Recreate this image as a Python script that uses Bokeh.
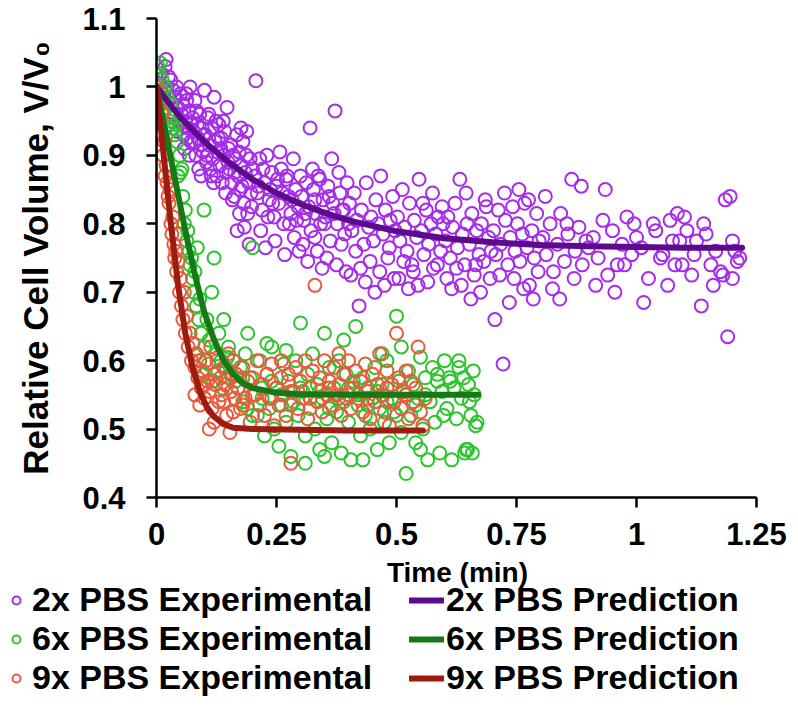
from bokeh.plotting import figure
from bokeh.models import FixedTicker, Legend, LegendItem, Label
from bokeh.embed import file_html
from bokeh.resources import INLINE

# ---------------- data ----------------
x_ticks = [0, 0.25, 0.5, 0.75, 1, 1.25]
x_tick_labels = ["0", "0.25", "0.5", "0.75", "1", "1.25"]
y_ticks = [0.4, 0.5, 0.6, 0.7, 0.8, 0.9, 1, 1.1]
y_tick_labels = ["0.4", "0.5", "0.6", "0.7", "0.8", "0.9", "1", "1.1"]

series_names = ["2x PBS Experimental", "6x PBS Experimental", "9x PBS Experimental",
                "2x PBS Prediction", "6x PBS Prediction", "9x PBS Prediction"]

pbs2_t = [
    0.005, 0.01, 0.012, 0.018, 0.02, 0.022, 0.025, 0.028, 0.03, 0.033,
    0.035, 0.037, 0.04, 0.042, 0.045, 0.047, 0.05, 0.015, 0.027, 0.043,
    0.052, 0.055, 0.057, 0.06, 0.062, 0.065, 0.067, 0.07, 0.072, 0.075,
    0.077, 0.08, 0.082, 0.085, 0.087, 0.09, 0.092, 0.095, 0.097, 0.1,
    0.058, 0.068, 0.078, 0.088, 0.098, 0.063, 0.073, 0.083, 0.093, 0.064,
    0.102, 0.105, 0.107, 0.11, 0.112, 0.115, 0.117, 0.12, 0.122, 0.125,
    0.127, 0.13, 0.132, 0.135, 0.137, 0.14, 0.142, 0.145, 0.147, 0.15,
    0.104, 0.114, 0.124, 0.134, 0.144, 0.109, 0.119, 0.129, 0.139, 0.149,
    0.152, 0.155, 0.157, 0.16, 0.162, 0.165, 0.167, 0.17, 0.172, 0.175,
    0.177, 0.18, 0.182, 0.185, 0.187, 0.19, 0.192, 0.195, 0.197, 0.2,
    0.158, 0.168, 0.178, 0.188, 0.198, 0.163, 0.173, 0.183, 0.193, 0.176,
    0.205, 0.21, 0.215, 0.22, 0.225, 0.23, 0.235, 0.24, 0.245, 0.25,
    0.255, 0.26, 0.265, 0.27, 0.275, 0.28, 0.285, 0.29, 0.295, 0.3,
    0.207, 0.217, 0.227, 0.237, 0.247, 0.257, 0.267, 0.277, 0.287, 0.297,
    0.212, 0.222, 0.232, 0.242, 0.252, 0.262, 0.272, 0.282, 0.292, 0.32,
    0.302, 0.307, 0.312, 0.317, 0.322, 0.327, 0.332, 0.337, 0.342, 0.347,
    0.352, 0.357, 0.362, 0.367, 0.372, 0.377, 0.382, 0.387, 0.392, 0.397,
    0.305, 0.315, 0.325, 0.335, 0.345, 0.355, 0.365, 0.375, 0.385, 0.395,
    0.31, 0.33, 0.35, 0.37, 0.39, 0.34, 0.36, 0.38, 0.4, 0.33,
    0.402, 0.407, 0.412, 0.417, 0.422, 0.427, 0.432, 0.437, 0.442, 0.447,
    0.452, 0.457, 0.462, 0.467, 0.472, 0.477, 0.482, 0.487, 0.492, 0.497,
    0.405, 0.415, 0.425, 0.435, 0.445, 0.455, 0.465, 0.475, 0.485, 0.495,
    0.502, 0.507, 0.512, 0.517, 0.522, 0.527, 0.532, 0.537, 0.542, 0.547,
    0.552, 0.557, 0.562, 0.567, 0.572, 0.577, 0.582, 0.587, 0.592, 0.597,
    0.505, 0.515, 0.525, 0.535, 0.545, 0.555, 0.565, 0.575, 0.585, 0.595,
    0.602, 0.607, 0.612, 0.617, 0.622, 0.627, 0.632, 0.637, 0.642, 0.647,
    0.652, 0.657, 0.662, 0.667, 0.672, 0.677, 0.682, 0.687, 0.692, 0.697,
    0.605, 0.615, 0.625, 0.635, 0.645, 0.655, 0.665, 0.675, 0.685, 0.695,
    0.702, 0.707, 0.712, 0.717, 0.722, 0.727, 0.732, 0.737, 0.742, 0.747,
    0.752, 0.757, 0.762, 0.767, 0.772, 0.777, 0.782, 0.787, 0.792, 0.797,
    0.705, 0.715, 0.725, 0.735, 0.745, 0.755, 0.765, 0.775, 0.785, 0.795,
    0.805, 0.812, 0.82, 0.827, 0.835, 0.842, 0.85, 0.857, 0.865, 0.872,
    0.88, 0.887, 0.895, 0.81, 0.825, 0.84, 0.855, 0.87, 0.885, 0.9,
    0.91, 0.92, 0.93, 0.94, 0.95, 0.96, 0.97, 0.98, 0.99, 1.0,
    0.915, 0.935, 0.955, 0.975, 0.995, 1.01, 1.025, 1.04, 1.055, 1.07,
    1.08, 1.09, 1.1, 1.015, 1.035, 1.05, 1.065, 1.075, 1.085, 1.095,
    1.105, 1.115, 1.125, 1.135, 1.145, 1.155, 1.165, 1.175, 1.185, 1.19,
    1.195, 1.2, 1.205, 1.21, 1.215, 1.12, 1.14, 1.16, 1.18, 1.2,
]
pbs2_v = [
    1.005, 1.02, 0.99, 1.03, 1.04, 1.0, 1.015, 0.985, 1.01, 0.975,
    0.995, 0.96, 0.985, 1.0, 0.97, 0.95, 0.99, 0.965, 0.945, 0.935,
    0.96, 0.975, 0.93, 0.95, 0.99, 0.94, 0.965, 1.0, 0.92, 0.955,
    0.935, 0.98, 0.9, 0.945, 0.925, 0.96, 0.915, 0.94, 0.905, 0.995,
    0.91, 0.9, 0.92, 0.88, 0.93, 0.98, 0.945, 0.965, 0.87, 0.925,
    0.93, 0.9, 0.955, 0.915, 0.88, 0.94, 0.895, 0.985, 0.92, 0.87,
    0.905, 0.945, 0.885, 0.925, 0.86, 0.9, 0.935, 0.875, 0.97, 0.91,
    0.89, 0.87, 0.95, 0.91, 0.845, 0.96, 0.86, 0.925, 0.95, 0.89,
    0.88, 0.915, 0.86, 0.9, 0.84, 0.895, 0.93, 0.87, 0.905, 0.85,
    0.885, 0.92, 0.83, 0.875, 0.9, 0.815, 0.86, 0.895, 0.845, 0.88,
    0.835, 0.79, 0.855, 0.935, 0.825, 0.875, 0.815, 0.795, 0.77, 0.94,
    0.87, 0.845, 0.895, 0.82, 0.86, 0.9, 0.835, 0.875, 0.81, 0.855,
    0.83, 0.88, 0.8, 0.865, 0.84, 0.815, 0.895, 0.85, 0.825, 0.87,
    1.009, 0.79, 0.765, 0.85, 0.775, 0.905, 0.755, 0.8, 0.78, 0.76,
    0.855, 0.88, 0.81, 0.83, 0.865, 0.845, 0.87, 0.835, 0.805, 0.94,
    0.84, 0.805, 0.86, 0.825, 0.79, 0.85, 0.815, 0.87, 0.8, 0.835,
    0.81, 0.855, 0.775, 0.83, 0.965, 0.8, 0.845, 0.82, 0.785, 0.86,
    0.77, 0.745, 0.88, 0.76, 0.735, 0.75, 0.895, 0.74, 0.77, 0.73,
    0.815, 0.835, 0.8, 0.815, 0.82, 0.865, 0.84, 0.875, 0.8, 0.78,
    0.83, 0.79, 0.845, 0.805, 0.68, 0.82, 0.77, 0.86, 0.795, 0.81,
    0.775, 0.835, 0.8, 0.87, 0.785, 0.82, 0.75, 0.805, 0.84, 0.79,
    0.725, 0.76, 0.735, 0.715, 0.745, 0.7, 0.73, 0.71, 0.765, 0.72,
    0.81, 0.775, 0.85, 0.795, 0.76, 0.83, 0.74, 0.805, 0.78, 0.865,
    0.79, 0.755, 0.82, 0.77, 0.8, 0.735, 0.785, 0.81, 0.76, 0.8,
    0.72, 0.745, 0.705, 0.73, 0.71, 0.83, 0.715, 0.845, 0.74, 0.825,
    0.775, 0.81, 0.75, 0.795, 0.83, 0.765, 0.865, 0.785, 0.74, 0.8,
    0.77, 0.815, 0.725, 0.79, 0.755, 0.8, 0.745, 0.825, 0.78, 0.76,
    0.72, 0.705, 0.735, 0.71, 0.845, 0.69, 0.74, 0.7, 0.835, 0.72,
    0.79, 0.755, 0.82, 0.77, 0.595, 0.805, 0.74, 0.78, 0.825, 0.76,
    0.8, 0.745, 0.785, 0.83, 0.765, 0.71, 0.79, 0.75, 0.815, 0.775,
    0.66, 0.725, 0.845, 0.685, 0.72, 0.85, 0.705, 0.835, 0.69, 0.73,
    0.78, 0.755, 0.8, 0.73, 0.77, 0.815, 0.745, 0.785, 0.865, 0.76,
    0.795, 0.74, 0.775, 0.84, 0.705, 0.69, 0.8, 0.72, 0.855, 0.765,
    0.78, 0.75, 0.805, 0.725, 0.79, 0.74, 0.77, 0.81, 0.755, 0.78,
    0.71, 0.85, 0.7, 0.74, 0.8, 0.765, 0.72, 0.79, 0.755, 0.805,
    0.74, 0.775, 0.81, 0.685, 0.8, 0.75, 0.71, 0.775, 0.815, 0.74,
    0.79, 0.725, 0.775, 0.68, 0.785, 0.74, 0.76, 0.73, 0.835, 0.635,
    0.84, 0.72, 0.76, 0.745, 0.75, 0.755, 0.8, 0.71, 0.725, 0.775,
]

pbs6_t = [
    0.0, 0.003, 0.005, 0.008, 0.01, 0.012, 0.015, 0.018, 0.02, 0.022,
    0.025, 0.028, 0.03, 0.033, 0.035, 0.038, 0.04, 0.043, 0.045, 0.048,
    0.05, 0.053, 0.055, 0.058, 0.06, 0.063, 0.065, 0.068, 0.07, 0.073,
    0.075, 0.078, 0.08, 0.083, 0.085, 0.088, 0.09, 0.093, 0.099, 0.1,
    0.105, 0.11, 0.115, 0.12, 0.125, 0.13, 0.135, 0.14, 0.145, 0.15,
    0.09, 0.098, 0.108, 0.118, 0.128, 0.138, 0.148, 0.155, 0.16, 0.165,
    0.17, 0.175, 0.18, 0.185, 0.19, 0.195, 0.2, 0.205, 0.21, 0.215,
    0.22, 0.225, 0.23, 0.235, 0.24, 0.245, 0.25, 0.255, 0.26, 0.265,
    0.27, 0.275, 0.28, 0.285, 0.29, 0.295, 0.3, 0.305, 0.31, 0.315,
    0.32, 0.325, 0.33, 0.335, 0.34, 0.345, 0.35, 0.355, 0.36, 0.365,
    0.37, 0.375, 0.38, 0.385, 0.39, 0.395, 0.4, 0.405, 0.41, 0.415,
    0.42, 0.425, 0.43, 0.435, 0.44, 0.445, 0.45, 0.455, 0.46, 0.465,
    0.47, 0.475, 0.48, 0.485, 0.49, 0.495, 0.5, 0.505, 0.51, 0.515,
    0.52, 0.525, 0.53, 0.535, 0.54, 0.545, 0.55, 0.555, 0.56, 0.565,
    0.57, 0.575, 0.58, 0.585, 0.59, 0.595, 0.6, 0.605, 0.61, 0.615,
    0.62, 0.625, 0.63, 0.635, 0.64, 0.645, 0.65, 0.655, 0.66, 0.665,
    0.642, 0.648, 0.652, 0.658, 0.662, 0.668, 0.612, 0.598, 0.585, 0.63,
    0.18, 0.2, 0.22, 0.24, 0.26, 0.28, 0.3, 0.32, 0.34, 0.36,
    0.38, 0.4, 0.42, 0.44, 0.46, 0.48, 0.5, 0.52, 0.54, 0.56,
    0.19, 0.23, 0.27, 0.31, 0.35, 0.39, 0.43, 0.47, 0.51, 0.55,
]
pbs6_v = [
    1.0, 1.03, 1.02, 1.035, 0.995, 1.01, 0.98, 1.0, 0.97, 0.985,
    0.96, 0.95, 0.975, 0.94, 0.955, 0.93, 0.945, 0.92, 0.87, 0.9,
    0.875, 0.88, 0.84, 0.8, 0.82, 0.775, 0.79, 0.76, 0.74, 0.75,
    0.72, 0.7, 0.73, 0.68, 0.765, 0.66, 0.69, 0.64, 0.82, 0.62,
    0.66, 0.63, 0.7, 0.75, 0.61, 0.64, 0.6, 0.66, 0.59, 0.62,
    0.6, 0.58, 0.595, 0.57, 0.585, 0.56, 0.605, 0.58, 0.6, 0.57,
    0.56, 0.59, 0.54, 0.61, 0.53, 0.575, 0.765, 0.55, 0.52, 0.6,
    0.545, 0.49, 0.58, 0.53, 0.62, 0.5, 0.56, 0.475, 0.535, 0.595,
    0.51, 0.57, 0.46, 0.54, 0.6, 0.52, 0.655, 0.555, 0.49, 0.58,
    0.53, 0.61, 0.5, 0.565, 0.47, 0.545, 0.64, 0.515, 0.59, 0.48,
    0.56, 0.525, 0.6, 0.465, 0.54, 0.58, 0.51, 0.455, 0.57, 0.65,
    0.535, 0.49, 0.575, 0.52, 0.56, 0.5, 0.545, 0.59, 0.47, 0.53,
    0.565, 0.51, 0.6, 0.48, 0.545, 0.525, 0.665, 0.57, 0.495, 0.555,
    0.435, 0.585, 0.52, 0.565, 0.48, 0.545, 0.605, 0.5, 0.575, 0.455,
    0.54, 0.59, 0.51, 0.57, 0.465, 0.555, 0.6, 0.53, 0.575, 0.455,
    0.56, 0.515, 0.59, 0.545, 0.575, 0.47, 0.565, 0.52, 0.585, 0.505,
    0.465, 0.47, 0.54, 0.465, 0.55, 0.51, 0.57, 0.52, 0.58, 0.6,
    0.575, 0.52, 0.56, 0.57, 0.55, 0.535, 0.56, 0.545, 0.555, 0.53,
    0.545, 0.56, 0.55, 0.535, 0.555, 0.54, 0.52, 0.55, 0.535, 0.55,
    0.64, 0.625, 0.615, 0.45, 0.46, 0.63, 0.455, 0.61, 0.62, 0.47,
]

pbs9_t = [
    0.0, 0.003, 0.005, 0.007, 0.01, 0.012, 0.014, 0.016, 0.018, 0.02,
    0.022, 0.024, 0.026, 0.028, 0.03, 0.032, 0.034, 0.036, 0.038, 0.04,
    0.042, 0.045, 0.048, 0.05, 0.052, 0.055, 0.058, 0.06, 0.063, 0.066,
    0.07, 0.073, 0.076, 0.08, 0.083, 0.086, 0.09, 0.093, 0.096, 0.1,
    0.103, 0.106, 0.11, 0.113, 0.116, 0.12, 0.123, 0.126, 0.13, 0.133,
    0.136, 0.14, 0.143, 0.146, 0.15, 0.153, 0.156, 0.16, 0.163, 0.166,
    0.17, 0.175, 0.18, 0.185, 0.19, 0.195, 0.2, 0.205, 0.21, 0.215,
    0.22, 0.225, 0.23, 0.235, 0.24, 0.245, 0.25, 0.255, 0.26, 0.265,
    0.27, 0.275, 0.28, 0.285, 0.29, 0.295, 0.3, 0.305, 0.31, 0.315,
    0.32, 0.325, 0.33, 0.335, 0.34, 0.345, 0.35, 0.355, 0.36, 0.365,
    0.37, 0.375, 0.38, 0.385, 0.39, 0.395, 0.4, 0.405, 0.41, 0.415,
    0.42, 0.425, 0.43, 0.435, 0.44, 0.445, 0.45, 0.455, 0.46, 0.465,
    0.47, 0.475, 0.48, 0.485, 0.49, 0.495, 0.5, 0.505, 0.51, 0.515,
    0.52, 0.525, 0.53, 0.535, 0.54, 0.545, 0.55, 0.555, 0.56, 0.048,
    0.08, 0.09, 0.1, 0.11, 0.12, 0.14, 0.16, 0.18, 0.2, 0.24,
    0.28, 0.32, 0.36, 0.4, 0.44, 0.48, 0.52, 0.15, 0.26, 0.38,
]
pbs9_v = [
    1.0, 0.99, 0.975, 0.95, 0.93, 0.96, 0.9, 0.92, 0.87, 0.885,
    0.86, 0.84, 0.83, 0.85, 0.8, 0.785, 0.81, 0.77, 0.75, 0.76,
    0.73, 0.745, 0.7, 0.72, 0.68, 0.66, 0.7, 0.64, 0.665, 0.62,
    0.64, 0.6, 0.625, 0.59, 0.61, 0.575, 0.6, 0.56, 0.585, 0.545,
    0.6, 0.57, 0.555, 0.62, 0.53, 0.58, 0.565, 0.6, 0.54, 0.575,
    0.55, 0.59, 0.565, 0.52, 0.575, 0.495, 0.555, 0.6, 0.545, 0.58,
    0.56, 0.53, 0.59, 0.545, 0.57, 0.51, 0.575, 0.55, 0.6, 0.535,
    0.565, 0.52, 0.58, 0.545, 0.595, 0.505, 0.56, 0.535, 0.575, 0.55,
    0.52, 0.58, 0.45, 0.555, 0.59, 0.53, 0.57, 0.545, 0.6, 0.515,
    0.56, 0.585, 0.71, 0.54, 0.575, 0.525, 0.6, 0.55, 0.57, 0.535,
    0.59, 0.55, 0.565, 0.52, 0.58, 0.545, 0.6, 0.53, 0.56, 0.585,
    0.545, 0.57, 0.525, 0.595, 0.555, 0.515, 0.58, 0.54, 0.565, 0.61,
    0.55, 0.525, 0.585, 0.505, 0.565, 0.54, 0.64, 0.575, 0.53, 0.555,
    0.585, 0.515, 0.57, 0.54, 0.56, 0.62, 0.525, 0.505, 0.545, 0.785,
    0.55, 0.535, 0.565, 0.5, 0.51, 0.54, 0.525, 0.535, 0.55, 0.545,
    0.555, 0.545, 0.56, 0.55, 0.545, 0.56, 0.55, 0.61, 0.6, 0.61,
]

pred2_t = [0, 0.05, 0.1, 0.15, 0.2, 0.25, 0.3, 0.35, 0.4, 0.5, 0.6, 0.7, 0.8, 0.9, 1.0, 1.1, 1.22]
pred2_v = [1.0, 0.955, 0.92, 0.89, 0.865, 0.845, 0.829, 0.816, 0.805, 0.789, 0.779, 0.773, 0.769, 0.767, 0.766, 0.765, 0.765]

pred6_t = [0, 0.02, 0.04, 0.06, 0.08, 0.1, 0.12, 0.14, 0.16, 0.18, 0.2, 0.25, 0.3, 0.4, 0.5, 0.6, 0.67]
pred6_v = [1.0, 0.93, 0.86, 0.79, 0.725, 0.67, 0.63, 0.6, 0.58, 0.567, 0.56, 0.553, 0.551, 0.55, 0.55, 0.55, 0.55]

pred9_t = [0, 0.015, 0.03, 0.045, 0.06, 0.075, 0.09, 0.105, 0.12, 0.14, 0.16, 0.2, 0.3, 0.4, 0.5, 0.555]
pred9_v = [1.0, 0.9, 0.8, 0.71, 0.64, 0.59, 0.555, 0.532, 0.518, 0.507, 0.502, 0.5, 0.499, 0.498, 0.498, 0.498]

x_title = "Time (min)"
y_title = "Relative Cell Volume, V/V\u2080"

# ---------------- styling ----------------
FONT = "Liberation Sans"
c_exp = ["#a52ce8", "#2ec42e", "#ea5a3c"]
c_pred = ["#5e0a8f", "#157a15", "#9c1c10"]
W = 790
H_MAIN = 558
H_LEG = 142

marker_kw = dict(marker="circle", size=13, fill_alpha=0, line_width=2)
line_kw = dict(line_width=6, line_cap="round", line_join="round")

# ---- main chart ----
p = figure(width=W, height=H_MAIN, x_range=(0, 1.25), y_range=(0.4, 1.1),
           output_backend="svg", toolbar_location=None,
           min_border_left=156, min_border_right=34, min_border_top=18,
           min_border_bottom=61)
p.outline_line_color = None
p.xgrid.visible = False
p.ygrid.visible = False

p.scatter(pbs2_t, pbs2_v, line_color=c_exp[0], **marker_kw)
p.scatter(pbs6_t, pbs6_v, line_color=c_exp[1], **marker_kw)
p.scatter(pbs9_t, pbs9_v, line_color=c_exp[2], **marker_kw)
p.line(pred2_t, pred2_v, line_color=c_pred[0], **line_kw)
p.line(pred6_t, pred6_v, line_color=c_pred[1], **line_kw)
p.line(pred9_t, pred9_v, line_color=c_pred[2], **line_kw)

for ax in (p.xaxis[0], p.yaxis[0]):
    ax.axis_line_width = 2.5
    ax.axis_line_color = "black"
    ax.major_tick_line_width = 2.5
    ax.major_tick_in = 0
    ax.major_tick_out = 10
    ax.minor_tick_line_color = None
    ax.major_label_text_font = FONT
    ax.major_label_text_font_style = "bold"
    ax.major_label_text_font_size = "31px"
    ax.major_label_text_color = "black"
    ax.axis_label_text_font = FONT
    ax.axis_label_text_font_style = "bold"
    ax.axis_label_text_color = "black"

p.xaxis.ticker = FixedTicker(ticks=x_ticks)
p.xaxis.major_label_overrides = dict(zip(x_ticks, x_tick_labels))
p.yaxis.ticker = FixedTicker(ticks=y_ticks)
p.yaxis.major_label_overrides = dict(zip(y_ticks, y_tick_labels))
p.yaxis.axis_label = y_title
p.yaxis.axis_label_text_font_size = "35px"
p.xaxis.major_label_standoff = 15
p.yaxis.major_label_standoff = 21
p.yaxis.axis_label_standoff = 24

# ---- lower panel: x title + legend (separate root, full width frame) ----
q = figure(width=W, height=H_LEG, x_range=(0, W), y_range=(0, H_LEG),
           output_backend="svg", toolbar_location=None,
           x_axis_type=None, y_axis_type=None, min_border=0)
q.outline_line_color = None
q.xgrid.visible = False
q.ygrid.visible = False

q.add_layout(Label(x=457, y=H_LEG - 14, text=x_title, text_align="center",
                   text_baseline="middle", text_font=FONT, text_font_style="bold",
                   text_font_size="28px", text_color="black"))

# legend proxies: same series, hidden in this panel (only their legend glyphs show)
e2 = q.scatter(pbs2_t, pbs2_v, line_color=c_exp[0], visible=False, **marker_kw)
e6 = q.scatter(pbs6_t, pbs6_v, line_color=c_exp[1], visible=False, **marker_kw)
e9 = q.scatter(pbs9_t, pbs9_v, line_color=c_exp[2], visible=False, **marker_kw)
r2 = q.line(pred2_t, pred2_v, line_color=c_pred[0], visible=False, **line_kw)
r6 = q.line(pred6_t, pred6_v, line_color=c_pred[1], visible=False, **line_kw)
r9 = q.line(pred9_t, pred9_v, line_color=c_pred[2], visible=False, **line_kw)


def make_legend(items, loc, glyph_w, standoff):
    lg = Legend(items=items, location=loc, orientation="vertical")
    lg.label_text_font = FONT
    lg.label_text_font_style = "bold"
    lg.label_text_font_size = "34px"
    lg.label_text_color = "black"
    lg.glyph_width = glyph_w
    lg.glyph_height = 20
    lg.label_standoff = standoff
    lg.spacing = 0
    lg.padding = 0
    lg.margin = 0
    lg.border_line_color = None
    lg.background_fill_alpha = 0
    lg.inactive_fill_alpha = 0
    return lg


q.add_layout(make_legend([
    LegendItem(label=series_names[0], renderers=[e2]),
    LegendItem(label=series_names[1], renderers=[e6]),
    LegendItem(label=series_names[2], renderers=[e9]),
], (6, 3), 20, 6))
q.add_layout(make_legend([
    LegendItem(label=series_names[3], renderers=[r2]),
    LegendItem(label=series_names[4], renderers=[r6]),
    LegendItem(label=series_names[5], renderers=[r9]),
], (409, 3), 35, 2))

open("out.html", "w").write(file_html([p, q], INLINE))
